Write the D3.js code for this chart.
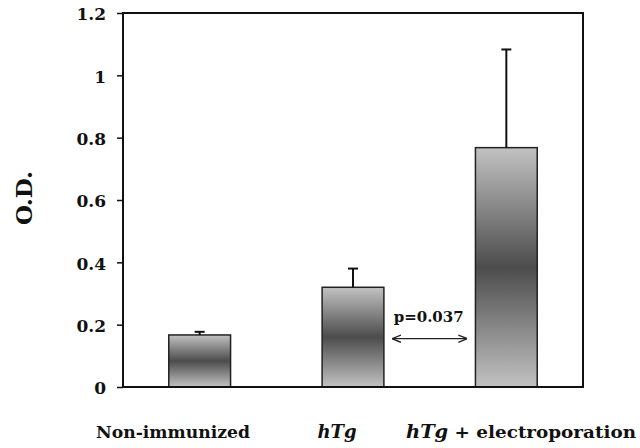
<!DOCTYPE html>
<html>
<head>
<meta charset="utf-8">
<script src="https://cdn.jsdelivr.net/npm/d3@7"></script>
<style>
  body { margin: 0; background: #fff; }
  svg text { font-family: "DejaVu Serif", "Liberation Serif", serif; font-weight: bold; fill: #111; }
</style>
</head>
<body>
<div id="chart"></div>
<script>
// data
var groups = ["Non-immunized", "hTg", "hTg + electroporation"];
var means = [0.167, 0.32, 0.768];
var errors = [0.01, 0.06, 0.315];
var yTicks = [0, 0.2, 0.4, 0.6, 0.8, 1, 1.2];
var pLabel = "p=0.037";

var width = 640, height = 448;
var margin = { top: 13, right: 57, bottom: 61, left: 123 };
var innerW = width - margin.left - margin.right,
    innerH = height - margin.top - margin.bottom;

var svg = d3.select("#chart").append("svg")
    .attr("width", width)
    .attr("height", height);

// vertical gradient, light - dark - light
var grad = svg.append("defs").append("linearGradient")
    .attr("id", "barGrad")
    .attr("x1", 0).attr("y1", 0).attr("x2", 0).attr("y2", 1);
grad.append("stop").attr("offset", "0%").attr("stop-color", "#c2c2c2");
grad.append("stop").attr("offset", "50%").attr("stop-color", "#4c4c4c");
grad.append("stop").attr("offset", "100%").attr("stop-color", "#c2c2c2");

var g = svg.append("g")
    .attr("transform", "translate(" + margin.left + "," + margin.top + ")");

var x = d3.scaleBand()
    .domain(groups)
    .range([0, innerW])
    .paddingInner(0.597)
    .paddingOuter(0.2985);

var y = d3.scaleLinear()
    .domain([0, 1.2])
    .range([innerH, 0]);

// bars
g.selectAll("rect.bar")
    .data(groups)
    .enter()
    .append("rect")
    .attr("class", "bar")
    .attr("x", d => x(d))
    .attr("y", (d, i) => y(means[i]))
    .attr("width", x.bandwidth())
    .attr("height", (d, i) => innerH - y(means[i]))
    .attr("fill", "url(#barGrad)")
    .attr("stroke", "#222")
    .attr("stroke-width", 1.5);

// error bars (upper only)
var err = g.selectAll("g.err")
    .data(groups)
    .enter()
    .append("g")
    .attr("class", "err");

err.append("line")
    .attr("x1", d => x(d) + x.bandwidth() / 2)
    .attr("x2", d => x(d) + x.bandwidth() / 2)
    .attr("y1", (d, i) => y(means[i]))
    .attr("y2", (d, i) => y(means[i] + errors[i]))
    .attr("stroke", "#111")
    .attr("stroke-width", 2);

err.append("line")
    .attr("x1", d => x(d) + x.bandwidth() / 2 - 5)
    .attr("x2", d => x(d) + x.bandwidth() / 2 + 5)
    .attr("y1", (d, i) => y(means[i] + errors[i]))
    .attr("y2", (d, i) => y(means[i] + errors[i]))
    .attr("stroke", "#111")
    .attr("stroke-width", 2);

// frame
g.append("rect")
    .attr("width", innerW)
    .attr("height", innerH)
    .attr("fill", "none")
    .attr("stroke", "#111")
    .attr("stroke-width", 2);

// y axis
var yAxis = d3.axisLeft(y)
    .tickValues(yTicks)
    .tickFormat(d3.format("~g"))
    .tickSize(6)
    .tickPadding(11);

var ya = g.append("g").call(yAxis);
ya.select(".domain").remove();
ya.selectAll("line").attr("stroke", "#111").attr("stroke-width", 1.5);
ya.selectAll("text")
    .style("font-size", "17px")
    .attr("dy", "0.4em")
    .attr("fill", "#111");

// y label
svg.append("text")
    .attr("transform", "translate(32," + (margin.top + innerH / 2 - 2) + ") rotate(-90)")
    .style("text-anchor", "middle")
    .style("font-size", "23px")
    .text("O.D.");

// x labels
var labelY = 438;
svg.append("text")
    .attr("x", 173)
    .attr("y", labelY)
    .style("text-anchor", "middle")
    .style("font-size", "17px")
    .attr("textLength", 154)
    .attr("lengthAdjust", "spacingAndGlyphs")
    .text(groups[0]);

svg.append("text")
    .attr("x", 337)
    .attr("y", labelY)
    .style("text-anchor", "middle")
    .style("font-size", "18px")
    .style("font-style", "italic")
    .text(groups[1]);

var lab3 = svg.append("text")
    .attr("x", 521)
    .attr("y", labelY)
    .style("text-anchor", "middle")
    .style("font-size", "17px")
    .attr("textLength", 230)
    .attr("lengthAdjust", "spacingAndGlyphs");
lab3.append("tspan").style("font-style", "italic").style("font-size", "18px").text("hTg");
lab3.append("tspan").text(groups[2].replace("hTg", ""));

// p value annotation with double arrow
var defs = svg.select("defs");
defs.append("marker")
    .attr("id", "arrow")
    .attr("viewBox", "0 0 10 10")
    .attr("refX", 9).attr("refY", 5)
    .attr("markerWidth", 9).attr("markerHeight", 9)
    .attr("markerUnits", "userSpaceOnUse")
    .attr("orient", "auto-start-reverse")
    .append("path")
    .attr("d", "M0,1 L10,5 L0,9")
    .attr("fill", "none")
    .attr("stroke", "#222")
    .attr("stroke-width", 1.5);

var ax1 = x(groups[1]) + x.bandwidth() + 9,
    ax2 = x(groups[2]) - 9;
var arrowY = y(0.155);

g.append("line")
    .attr("x1", ax1).attr("x2", ax2)
    .attr("y1", arrowY).attr("y2", arrowY)
    .attr("stroke", "#222")
    .attr("stroke-width", 1.3)
    .attr("marker-start", "url(#arrow)")
    .attr("marker-end", "url(#arrow)");

g.append("text")
    .attr("x", (ax1 + ax2) / 2 - 1)
    .attr("y", y(0.208))
    .style("font-size", "15px")
    .style("text-anchor", "middle")
    .text(pLabel);
</script>
</body>
</html>
